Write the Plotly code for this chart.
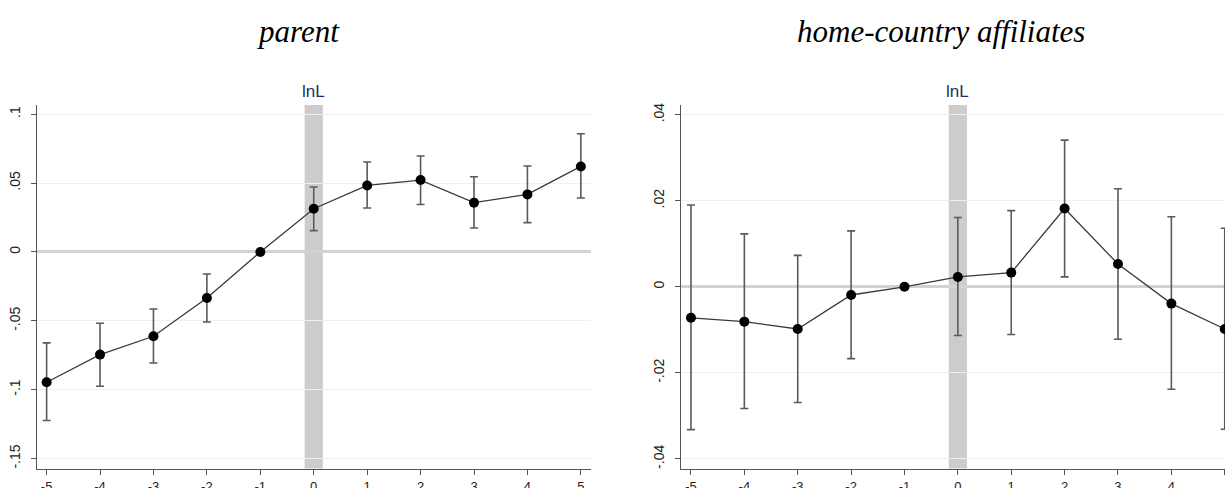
import plotly.graph_objects as go

# ---- data ----
periods = [-5, -4, -3, -2, -1, 0, 1, 2, 3, 4, 5]

parent_coef = [-0.0946, -0.0745, -0.0612, -0.0334, 0.0, 0.0314, 0.0483, 0.0522, 0.0358, 0.0418, 0.0621]
parent_hi = [-0.0660, -0.0518, -0.0414, -0.0160, 0.0, 0.0472, 0.0653, 0.0697, 0.0546, 0.0624, 0.0858]
parent_lo = [-0.1224, -0.0975, -0.0806, -0.0508, 0.0, 0.0155, 0.0319, 0.0345, 0.0174, 0.0213, 0.0392]

home_coef = [-0.0072, -0.0081, -0.0098, -0.0019, 0.0, 0.0023, 0.0033, 0.0182, 0.0053, -0.0039, -0.0098]
home_hi = [0.0190, 0.0123, 0.0073, 0.0130, 0.0, 0.0161, 0.0177, 0.0341, 0.0228, 0.0163, 0.0136]
home_lo = [-0.0332, -0.0283, -0.0269, -0.0167, 0.0, -0.0113, -0.0111, 0.0023, -0.0122, -0.0238, -0.0331]

parent_yticks = [-0.15, -0.1, -0.05, 0, 0.05, 0.1]
parent_ytext = ["-.15", "-.1", "-.05", "0", ".05", ".1"]
home_yticks = [-0.04, -0.02, 0, 0.02, 0.04]
home_ytext = ["-.04", "-.02", "0", ".02", ".04"]

titles = ["parent", "home-country affiliates"]
event_label = "lnL"

W, H = 1225, 488

fig = go.Figure()


def add_panel(coef, hi, lo, xa, ya):
    err_plus = [h - c for h, c in zip(hi, coef)]
    err_minus = [c - l for c, l in zip(coef, lo)]
    fig.add_trace(go.Scatter(
        x=periods, y=coef, xaxis=xa, yaxis=ya, mode="lines+markers",
        line=dict(color="#3a3a3a", width=1.3),
        marker=dict(color="black", size=10),
        error_y=dict(type="data", array=err_plus, arrayminus=err_minus,
                     color="#5a5a5a", thickness=1.6, width=4),
        showlegend=False, hoverinfo="skip",
    ))


add_panel(parent_coef, parent_hi, parent_lo, "x", "y")
add_panel(home_coef, home_hi, home_lo, "x2", "y2")

ydom = [1 - 468.5 / H, 1 - 105 / H]
axis_common = dict(
    showline=True, linecolor="#555555", linewidth=1.2,
    ticks="outside", ticklen=5, tickcolor="#555555", tickwidth=1.2,
    automargin=False,
)
xcommon = dict(axis_common, tickvals=periods, ticktext=[str(p) for p in periods],
               showgrid=False, zeroline=False, ticklabelstandoff=1,
               tickfont=dict(family="Liberation Sans, Arial", size=13, color="#222222"))
ycommon = dict(axis_common, showgrid=True, gridcolor="#e9f1f1", gridwidth=1,
               zeroline=True, zerolinecolor="#d2d2d2", zerolinewidth=3,
               tickangle=-90, ticklabelstandoff=5,
               tickfont=dict(family="Liberation Sans, Arial", size=14, color="#222222"))

fig.update_layout(
    width=W, height=H,
    margin=dict(l=0, r=0, t=0, b=0, pad=0, autoexpand=False),
    paper_bgcolor="white", plot_bgcolor="white",
    xaxis=dict(xcommon, domain=[37 / W, 591 / W], range=[-5.18, 5.19], anchor="y"),
    yaxis=dict(ycommon, domain=ydom, range=[-0.1572, 0.1067], anchor="x",
               tickvals=parent_yticks, ticktext=parent_ytext),
    xaxis2=dict(xcommon, domain=[681 / W, 1.0], range=[-5.187, 5.005], anchor="y2"),
    yaxis2=dict(ycommon, domain=ydom, range=[-0.04223, 0.04226], anchor="x2",
                tickvals=home_yticks, ticktext=home_ytext),
)

# event band and label
for xa, ya in [("x", "y"), ("x2", "y2")]:
    dom = "y domain" if ya == "y" else "y2 domain"
    fig.add_shape(type="rect", xref=xa, yref=dom, x0=-0.17, x1=0.17, y0=0, y1=1,
                  fillcolor="#cccccc", line=dict(width=0), layer="below")
    fig.add_annotation(x=0, xref=xa, y=1 - 91 / H, yref="paper", yanchor="middle",
                       xanchor="center", text=event_label, showarrow=False,
                       font=dict(family="Liberation Sans, Arial", size=17, color="#1e3262"))

# panel titles
for cx, t in [(298, titles[0]), (941, titles[1])]:
    fig.add_annotation(x=cx / W, xref="paper", y=1 - 32 / H, yref="paper", yanchor="middle",
                       xanchor="center", text="<i>" + t + "</i>", showarrow=False,
                       font=dict(family="Liberation Serif, Times New Roman", size=31, color="black"))

fig.write_html("out.html", config={"displayModeBar": False},
               post_script="document.body.style.margin='0';document.body.style.overflow='hidden';")
